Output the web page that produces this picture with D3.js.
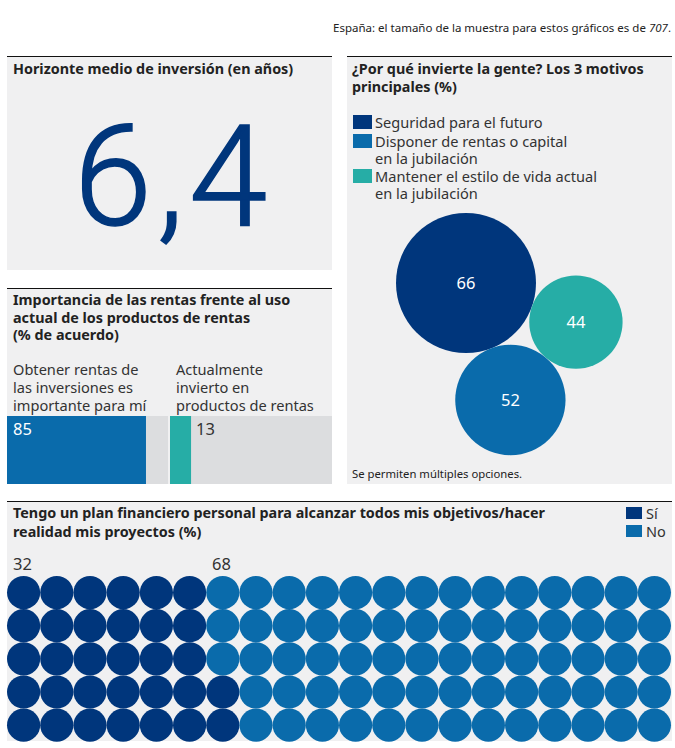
<!DOCTYPE html>
<html>
<head>
<meta charset="utf-8">
<script src="https://cdn.jsdelivr.net/npm/d3@7"></script>
<style>
  html, body { margin: 0; padding: 0; background: #fff; }
  svg { display: block; }
  text { font-family: "Noto Sans", sans-serif; fill: #222; }
  .title { font-size: 14.35px; font-weight: 700; }
  .label { font-size: 14.6px; fill: #333; }
</style>
</head>
<body>
<div id="chart"></div>
<script>
const sampleNote = "España: el tamaño de la muestra para estos gráficos es de "
const sampleSize = "707"
const sampleEnd = "."

const horizonTitle = ["Horizonte medio de inversión (en años)"]
const horizonValue = "6,4"

const incomeTitle = ["Importancia de las rentas frente al uso", "actual de los productos de rentas", "(% de acuerdo)"]
const incomeLabels = [
  ["Obtener rentas de", "las inversiones es", "importante para mí"],
  ["Actualmente", "invierto en", "productos de rentas"]
]
const incomeValues = [85, 13]

const motiveTitle = ["¿Por qué invierte la gente? Los 3 motivos", "principales (%)"]
const motiveLabels = [
  ["Seguridad para el futuro"],
  ["Disponer de rentas o capital", "en la jubilación"],
  ["Mantener el estilo de vida actual", "en la jubilación"]
]
const motiveValues = [66, 52, 44]
const motiveNote = "Se permiten múltiples opciones."

const planTitle = ["Tengo un plan financiero personal para alcanzar todos mis objetivos/hacer", "realidad mis proyectos (%)"]
const planCategories = ["Sí", "No"]
const planValues = [32, 68]

const DARK = "#00367c", BLUE = "#0a6bab", TEAL = "#26ada6"
const PANEL = "#f0f0f1", TRACK = "#dcdddf"

const svg = d3.select("#chart").append("svg")
  .attr("width", 675)
  .attr("height", 748)

function panel(x, y, w, h) {
  svg.append("rect").attr("x", x).attr("y", y).attr("width", w).attr("height", h).attr("fill", PANEL)
  svg.append("line")
    .attr("x1", x).attr("x2", x + w)
    .attr("y1", y + 0.5).attr("y2", y + 0.5)
    .attr("stroke", "#111")
}

function lines(x, y, rows, step, cls) {
  const t = svg.append("text").attr("class", cls)
  t.selectAll("tspan").data(rows).join("tspan")
    .attr("x", x)
    .attr("y", (d, i) => y + i * step)
    .text(d => d)
}

panel(7, 56, 325, 214)
panel(7, 288, 325, 196)
panel(347, 56, 325, 428)
panel(7, 501, 665, 240)

// sample note
const note = svg.append("text")
  .attr("x", 671).attr("y", 32)
  .attr("text-anchor", "end")
  .attr("font-size", "11.5px")
note.append("tspan").text(sampleNote)
note.append("tspan").attr("font-style", "italic").text(sampleSize)
note.append("tspan").text(sampleEnd)

// average horizon
lines(13, 74, horizonTitle, 18, "title")
svg.append("text")
  .attr("x", 173).attr("y", 225)
  .attr("text-anchor", "middle")
  .attr("font-size", "141px")
  .attr("letter-spacing", "5px")
  .attr("stroke", DARK)
  .attr("stroke-width", 1.6)
  .style("font-family", "Roboto")
  .style("font-weight", 300)
  .style("fill", DARK)
  .text(horizonValue)

// income bars
lines(13, 305, incomeTitle, 17.5, "title")
const incomeX = d3.scaleLinear().domain([0, 100])
const incomeColors = [BLUE, TEAL]
const incomeTextColors = ["#fff", "#333"]
const incomeStart = [7, 170]
const incomeEnd = [170.5, 332]
const trackEnd = [168, 332]
incomeValues.forEach((v, i) => {
  incomeX.range([incomeStart[i], incomeEnd[i]])
  svg.append("rect")
    .attr("x", incomeX(0)).attr("y", 416)
    .attr("width", trackEnd[i] - incomeX(0)).attr("height", 68)
    .attr("fill", TRACK)
  svg.append("rect")
    .attr("x", incomeX(0)).attr("y", 416)
    .attr("width", incomeX(v) - incomeX(0)).attr("height", 68)
    .attr("fill", incomeColors[i])
  lines(i === 0 ? 13 : 176, 375, incomeLabels[i], 18, "label")
  svg.append("text")
    .attr("x", i === 0 ? 13 : incomeX(v) + 5).attr("y", 435)
    .attr("font-size", "16.5px")
    .style("fill", incomeTextColors[i])
    .text(v)
})

// motives legend + bubbles
lines(352, 74, motiveTitle, 18, "title")
const motiveColors = [DARK, BLUE, TEAL]
const swatchY = [115, 134, 169]
motiveLabels.forEach((rows, i) => {
  svg.append("rect")
    .attr("x", 353).attr("y", swatchY[i])
    .attr("width", 19).attr("height", 14)
    .attr("fill", motiveColors[i])
  lines(375, swatchY[i] + 12.5, rows, 17.5, "label")
})

const r = d3.scaleLinear().domain([0, 66]).range([0, 70])
const bubbles = motiveValues.map((v, i) => ({ value: v, color: motiveColors[i], r: r(v) }))
d3.packSiblings(bubbles)

// pack gives touching circles, mirror and turn them round the big bubble to sit like the original
const [a, b] = bubbles
const turn = Math.atan2(116, 44) - Math.atan2(a.y - b.y, b.x - a.x)
bubbles.forEach(d => {
  const dx = d.x - a.x, dy = a.y - d.y
  d.px = 466 + dx * Math.cos(turn) - dy * Math.sin(turn)
  d.py = 283 + dx * Math.sin(turn) + dy * Math.cos(turn)
})

svg.append("g").selectAll("circle").data(bubbles).join("circle")
  .attr("cx", d => d.px)
  .attr("cy", d => d.py)
  .attr("r", d => d.r)
  .attr("fill", d => d.color)

svg.append("g").selectAll("text").data(bubbles).join("text")
  .attr("x", d => d.px)
  .attr("y", d => d.py + 6)
  .attr("text-anchor", "middle")
  .attr("font-size", "16.5px")
  .style("fill", "#fff")
  .text(d => d.value)

svg.append("text")
  .attr("x", 352).attr("y", 478)
  .attr("font-size", "11.3px")
  .text(motiveNote)

// plan waffle
lines(13, 518, planTitle, 19, "title")
const planColors = [DARK, BLUE]
const planY = [507, 525]
planCategories.forEach((c, i) => {
  svg.append("rect")
    .attr("x", 626).attr("y", planY[i])
    .attr("width", 16).attr("height", 12)
    .attr("fill", planColors[i])
  svg.append("text")
    .attr("x", 646).attr("y", planY[i] + 12)
    .attr("font-size", "14.5px")
    .style("fill", "#333")
    .text(c)
})

const col = d3.scaleBand().domain(d3.range(20)).range([7, 671])
const row = d3.scaleBand().domain(d3.range(5)).range([576, 741.7])
const dots = d3.range(d3.sum(planValues))

svg.append("g").selectAll("circle").data(dots).join("circle")
  .attr("cx", d => col(Math.floor(d / 5)) + col.bandwidth() / 2)
  .attr("cy", d => row(4 - d % 5) + row.bandwidth() / 2)
  .attr("r", col.bandwidth() / 2)
  .attr("fill", d => d < planValues[0] ? DARK : BLUE)

svg.append("g").selectAll("text").data(planValues).join("text")
  .attr("x", (d, i) => i === 0 ? 13 : 212)
  .attr("y", 570)
  .attr("font-size", "16.5px")
  .style("fill", "#333")
  .text(d => d)
</script>
</body>
</html>
